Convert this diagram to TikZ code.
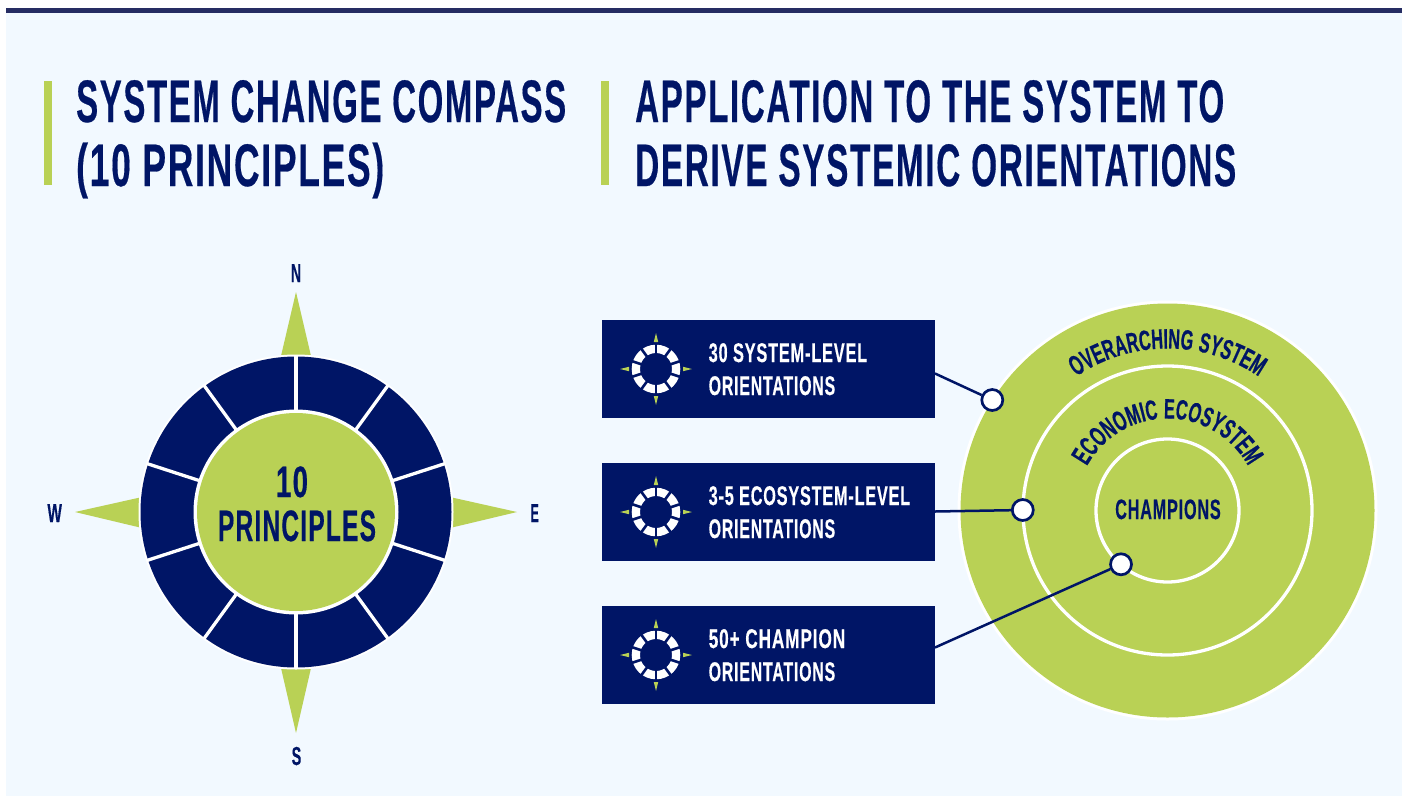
\documentclass[tikz,border=0pt]{standalone}
\usepackage{fontspec}
\usepackage{graphicx}
\setmainfont{Liberation Sans}
\newfontfamily\arcfont[FakeStretch=0.58,LetterSpace=3,FakeBold=0.5]{Liberation Sans}
\usetikzlibrary{decorations.text,calc}
\definecolor{navy}{HTML}{001566}
\definecolor{leaf}{HTML}{B9D155}
\definecolor{pale}{HTML}{F2F9FF}
\definecolor{topbar}{HTML}{262D63}
\newcommand{\tx}[3]{\resizebox{#1pt}{\height}{\fontsize{#2}{#2}\selectfont\bfseries\addfontfeature{LetterSpace=5,FakeBold=0.5}#3}}
\tikzset{
  lbl/.style={inner sep=0pt,anchor=base west,text=navy},
  clbl/.style={inner sep=0pt,anchor=base,text=navy},
  wlbl/.style={inner sep=0pt,anchor=base west,text=white},
  bluebox/.style={fill=navy,inner sep=0pt,minimum width=333pt,minimum height=98pt},
  dotnode/.style={circle,draw=navy,fill=white,line width=2.7pt,inner sep=0pt,minimum size=21pt},
  conn/.style={draw=navy,line width=2.5pt},
  ringw/.style={circle,draw=white,line width=3.3pt,inner sep=0pt},
}
\newcommand{\arctext}[3]{\path[decorate,decoration={text along path,text align=center,text={|\arcfont\bfseries\fontsize{#3}{#3}\selectfont\color{navy}|#2}}] ([shift={(180:#1)}]oc.center) arc[start angle=180,end angle=360,radius=#1];}
\begin{document}
\begin{tikzpicture}[x=1pt,y=-1pt]
\useasboundingbox (0,0) rectangle (1408,796);
\fill[white] (0,0) rectangle (1408,796);
\fill[pale] (6,9) rectangle (1402,796);
\fill[topbar] (6,8) rectangle (1402,13);
% titles
\fill[leaf] (44,80.5) rectangle (52,185);
\fill[leaf] (601,80.5) rectangle (609,185);
\node[lbl] (t1) at (76,122) {\tx{490}{60}{SYSTEM CHANGE COMPASS}};
\node[lbl] (t2) at (76,186) {\tx{308}{60}{(10 PRINCIPLES)}};
\node[lbl] (t3) at (635,122) {\tx{589}{60}{APPLICATION TO THE SYSTEM TO}};
\node[lbl] (t4) at (635,186) {\tx{601}{60}{DERIVE SYSTEMIC ORIENTATIONS}};
% compass
\fill[leaf] (281,356) -- (296,292) -- (311,356) -- cycle;
\fill[leaf] (281,668) -- (296,733) -- (311,668) -- cycle;
\fill[leaf] (140,497.5) -- (75,512) -- (140,527.5) -- cycle;
\fill[leaf] (452,497.5) -- (517,512) -- (452,527.5) -- cycle;
\node[circle,fill=white,inner sep=0pt,minimum size=315pt] (cw) at (296,512) {};
\node[circle,fill=navy,inner sep=0pt,minimum size=311pt] (cn) at (296,512) {};
\foreach \a in {18,54,...,342}{\draw[white,line width=3.3pt] (cn.center) -- ++(\a:157);}
\node[circle,fill=white,inner sep=0pt,minimum size=205pt] (ci) at (296,512) {};
\node[circle,fill=leaf,inner sep=0pt,minimum size=198pt] (cg) at (296,512) {};
\node[clbl] (c1) at (292,497) {\tx{32}{44}{10}};
\node[clbl] (c2) at (297,541) {\tx{158}{44}{PRINCIPLES}};
\node[clbl] (n) at (296,282) {\tx{10}{26}{N}};
\node[clbl] (s) at (296.5,765) {\tx{9.5}{26}{S}};
\node[clbl] (e) at (534.7,522) {\tx{8.5}{26}{E}};
\node[clbl] (w) at (54.7,522) {\tx{14.5}{26}{W}};
% boxes
\node[bluebox] (b1) at (768.5,369) {};
\node[bluebox] (b2) at (768.5,512) {};
\node[bluebox] (b3) at (768.5,655) {};
\foreach \bx in {b1,b2,b3}{
  \begin{scope}[shift={($(\bx.center)+(-112.5,0)$)}]
    \fill[leaf] (-2.2,-27) -- (0,-36) -- (2.2,-27) -- cycle;
    \fill[leaf] (-2.2,27) -- (0,36) -- (2.2,27) -- cycle;
    \fill[leaf] (-27,-2.2) -- (-36,0) -- (-27,2.2) -- cycle;
    \fill[leaf] (27,-2.2) -- (36,0) -- (27,2.2) -- cycle;
    \fill[white,even odd rule] (0,0) circle[radius=24.3] (0,0) circle[radius=16];
    \foreach \a in {18,54,...,342}{\draw[navy,line width=2.6pt] (\a:15) -- (\a:25.5);}
  \end{scope}
}
\node[wlbl] (l1) at (708.5,362) {\tx{158.5}{27}{30 SYSTEM-LEVEL}};
\node[wlbl] (l2) at (708.5,395) {\tx{126.5}{27}{ORIENTATIONS}};
\node[wlbl] (l3) at (708.5,505) {\tx{201.5}{27}{3-5 ECOSYSTEM-LEVEL}};
\node[wlbl] (l4) at (708.5,538) {\tx{126.5}{27}{ORIENTATIONS}};
\node[wlbl] (l5) at (708.5,648) {\tx{136.5}{27}{50+ CHAMPION}};
\node[wlbl] (l6) at (708.5,681) {\tx{126.5}{27}{ORIENTATIONS}};
% target
\node[circle,fill=white,inner sep=0pt,minimum size=420pt] (ow) at (1167.5,510.5) {};
\node[circle,fill=leaf,inner sep=0pt,minimum size=414pt] (oc) at (1167.5,510.5) {};
\node[ringw,minimum size=289pt] (mc) at (1167.5,510.5) {};
\node[ringw,minimum size=143pt] (ic) at (1167.5,510.5) {};
\arctext{162}{OVERARCHING SYSTEM}{28}
\arctext{92}{ECONOMIC ECOSYSTEM}{28}
\node[clbl] (ch) at (1168,519) {\tx{105.5}{28}{CHAMPIONS}};
% connectors
\coordinate (p1) at (935,373.5);
\coordinate (p2) at (935,511.5);
\coordinate (p3) at (935,647.5);
\node[dotnode] (d1) at (992.3,400) {};
\node[dotnode] (d2) at (1022.8,510) {};
\node[dotnode] (d3) at (1121,564.3) {};
\draw[conn] (p1) -- (d1);
\draw[conn] (p2) -- (d2);
\draw[conn] (p3) -- (d3);
\end{tikzpicture}
\end{document}
